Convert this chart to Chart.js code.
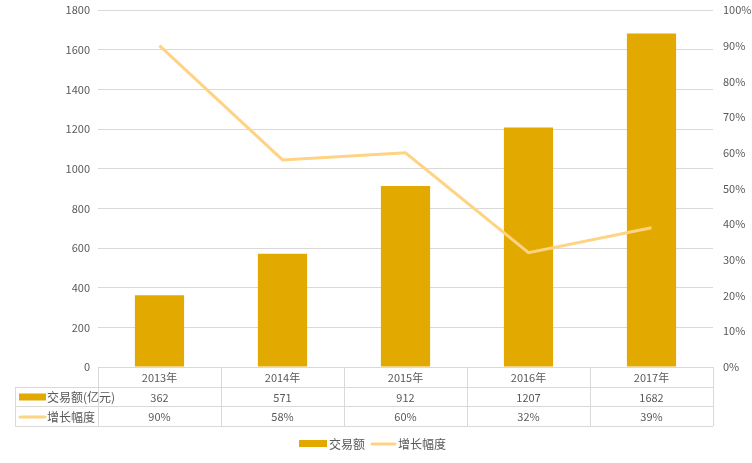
<!DOCTYPE html>
<html><head><meta charset="utf-8">
<script src="https://cdn.jsdelivr.net/npm/chart.js@4"></script>
<style>html,body{margin:0;padding:0;background:#fff}#w{width:752px;height:463px}</style>
</head><body><div id="w"><canvas id="c"></canvas></div>
<script>
const categories = ['2013年','2014年','2015年','2016年','2017年'];
const volume = [362, 571, 912, 1207, 1682];
const growth = [90, 58, 60, 32, 39];
const seriesNames = ['交易额', '增长幅度'];
const rowLabels = ['交易额(亿元)', '增长幅度'];
const barColor = '#E2AA00', lineColor = '#FFD384';
const FONT = '"Microsoft YaHei","Noto Sans CJK SC",sans-serif';

const tablePlugin = {
  id: 'table',
  afterDraw(chart) {
    const ctx = chart.ctx, xs = chart.scales.x, ca = chart.chartArea;
    const top = ca.bottom, r1 = top + 20, r2 = r1 + 19, r3 = r2 + 20;
    const left = 15, right = ca.right, step = (ca.right - ca.left) / categories.length;
    ctx.save();
    ctx.strokeStyle = '#d9d9d9'; ctx.lineWidth = 1;
    ctx.beginPath();
    ctx.moveTo(ca.left, top + .5); ctx.lineTo(right, top + .5);
    [r1, r2, r3].forEach(y => { ctx.moveTo(left, y + .5); ctx.lineTo(right, y + .5); });
    ctx.moveTo(left + .5, r1); ctx.lineTo(left + .5, r3);
    for (let i = 0; i <= categories.length; i++) {
      const x = Math.round(ca.left + i * step) + .5;
      ctx.moveTo(x, top); ctx.lineTo(x, r3);
    }
    ctx.stroke();
    ctx.fillStyle = '#595959'; ctx.font = '11px ' + FONT; ctx.textBaseline = 'middle'; ctx.textAlign = 'center';
    categories.forEach((c, i) => {
      const x = xs.getPixelForValue(i);
      ctx.fillText(c, x, (top + r1) / 2 + 1);
      ctx.fillText(String(volume[i]), x, (r1 + r2) / 2 + 1);
      ctx.fillText(growth[i] + '%', x, (r2 + r3) / 2 + 1);
    });
    ctx.textAlign = 'left';
    ctx.fillStyle = barColor; ctx.fillRect(19, (r1 + r2) / 2 - 3, 27, 7);
    ctx.strokeStyle = lineColor; ctx.lineWidth = 3; ctx.lineCap = 'round';
    ctx.beginPath(); ctx.moveTo(20, (r2 + r3) / 2 + 1); ctx.lineTo(45, (r2 + r3) / 2 + 1); ctx.stroke();
    ctx.fillStyle = '#595959'; ctx.font = '12px ' + FONT;
    ctx.fillText(rowLabels[0], 47, (r1 + r2) / 2 + 1);
    ctx.fillText(rowLabels[1], 47, (r2 + r3) / 2 + 1);
    // legend
    const ly = 443;
    let x = 299;
    ctx.fillStyle = barColor; ctx.fillRect(x, ly - 3, 28, 7); x += 30;
    ctx.fillStyle = '#595959'; ctx.fillText(seriesNames[0], x, ly + 1);
    x += ctx.measureText(seriesNames[0]).width + 6;
    ctx.beginPath(); ctx.strokeStyle = lineColor; ctx.moveTo(x + 1, ly + 1); ctx.lineTo(x + 24, ly + 1); ctx.stroke();
    x += 27;
    ctx.fillText(seriesNames[1], x, ly + 1);
    ctx.restore();
  }
};

new Chart(document.getElementById('c'), {
  data: {
    labels: categories,
    datasets: [
      { type: 'line', label: seriesNames[1], data: growth, yAxisID: 'y1', borderColor: lineColor, borderWidth: 3, pointRadius: 0, tension: 0, order: 0 },
      { type: 'bar', label: seriesNames[0], data: volume, yAxisID: 'y', backgroundColor: barColor, barPercentage: 0.4, categoryPercentage: 1, order: 1 }
    ]
  },
  options: {
    responsive: true, maintainAspectRatio: false, animation: false,
    layout: { padding: { top: 10, left: 0, right: 0, bottom: 0 } },
    plugins: { legend: { display: false }, tooltip: { enabled: false } },
    scales: {
      x: { grid: { display: false }, border: { display: false }, ticks: { display: false },
           afterFit(s) { s.height = 96; } },
      y: { min: 0, max: 1800, ticks: { stepSize: 200, color: '#595959', font: { size: 11, family: FONT }, padding: 8, callback: v => String(v) },
           grid: { color: '#d9d9d9', drawTicks: false }, border: { display: false },
           afterFit(s) { s.width = 98; s.paddingTop = 0; s.paddingBottom = 0; } },
      y1: { position: 'right', min: 0, max: 100, ticks: { stepSize: 10, color: '#595959', font: { size: 11, family: FONT }, padding: 10, callback: v => v + '%' },
            grid: { display: false, drawTicks: false }, border: { display: false },
            afterFit(s) { s.width = 39; s.paddingTop = 0; s.paddingBottom = 0; } }
    }
  },
  plugins: [tablePlugin]
});
</script></body></html>
